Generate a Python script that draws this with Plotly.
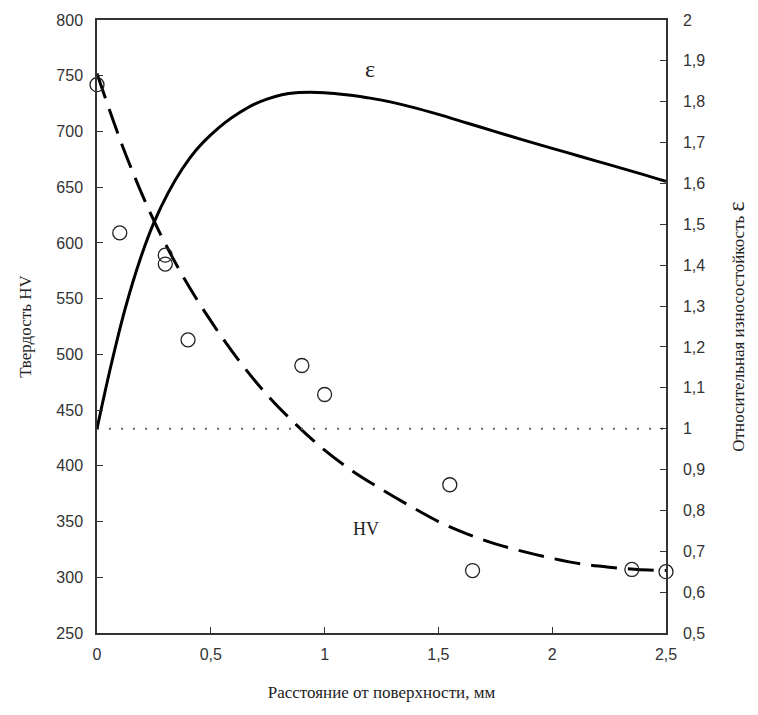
import plotly.graph_objects as go

# Measured hardness points (open circles)
hv_pts_x = [0.0, 0.1, 0.3, 0.3, 0.4, 0.9, 1.0, 1.55, 1.65, 2.35, 2.5]
hv_pts_y = [742, 609, 589, 581, 513, 490, 464, 383, 306, 307, 305]

# Fitted hardness curve (dashed), read every 0.125 mm
hv_fit_x = [0, 0.125, 0.25, 0.375, 0.5, 0.625, 0.75, 0.875, 1.0, 1.125, 1.25, 1.375,
            1.5, 1.625, 1.75, 1.875, 2.0, 2.125, 2.25, 2.375, 2.5]
hv_fit_y = [752, 680, 620, 571, 530, 494, 463, 437, 414, 395, 379, 364,
            350, 339, 330, 323, 317, 312, 309, 307, 306]

# Relative wear resistance curve (solid, right axis)
eps_x = [0, 0.0625, 0.125, 0.1875, 0.25, 0.3125, 0.375, 0.4375, 0.5, 0.5625, 0.625,
         0.6875, 0.75, 0.8125, 0.875, 0.9375, 1.0, 1.0625, 1.125, 1.1875, 1.25, 1.375,
         1.5, 1.625, 1.75, 1.875, 2.0, 2.125, 2.25, 2.375, 2.5]
eps_y = [1.0, 1.157, 1.296, 1.411, 1.504, 1.577, 1.636, 1.683, 1.719, 1.749, 1.773,
         1.793, 1.807, 1.817, 1.822, 1.823, 1.822, 1.819, 1.815, 1.810, 1.804, 1.788,
         1.769, 1.748, 1.727, 1.706, 1.686, 1.666, 1.646, 1.626, 1.605]

# Reference level eps = 1
ref_x = [0, 2.5]
ref_y = [1, 1]

fig = go.Figure()
fig.add_trace(go.Scatter(x=ref_x, y=ref_y, yaxis="y2", mode="lines",
                         line=dict(color="#666", width=2, dash="2px,10px"),
                         showlegend=False))
fig.add_trace(go.Scatter(x=hv_fit_x, y=hv_fit_y, mode="lines",
                         line=dict(color="black", width=3, dash="26px,11px", shape="spline", smoothing=1),
                         showlegend=False))
fig.add_trace(go.Scatter(x=eps_x, y=eps_y, yaxis="y2", mode="lines",
                         line=dict(color="black", width=3, shape="spline", smoothing=1),
                         showlegend=False))
fig.add_trace(go.Scatter(x=hv_pts_x, y=hv_pts_y, mode="markers",
                         marker=dict(symbol="circle-open", size=14, color="#222",
                                     line=dict(width=1.3, color="#222")),
                         cliponaxis=False, showlegend=False))

tickfont = dict(family="Liberation Sans, Arial", size=16, color="#333")
titlefont = dict(family="Liberation Serif, Times New Roman", size=17, color="#222")

fig.update_layout(
    width=758, height=715,
    margin=dict(l=97, r=92, t=20, b=82),
    paper_bgcolor="white", plot_bgcolor="white",
    separators=", ",
    xaxis=dict(range=[0, 2.5], dtick=0.5, tick0=0, ticks="inside", ticklen=6,
               tickcolor="#333", showline=True, linecolor="#333", linewidth=1.5,
               mirror=True, showgrid=False, zeroline=False, tickfont=tickfont,
               ticklabelstandoff=6,
               title=dict(text="Расстояние от поверхности, мм", font=titlefont, standoff=24)),
    yaxis=dict(range=[250, 800], dtick=50, tick0=250, ticks="inside", ticklen=6,
               tickcolor="#333", showline=True, linecolor="#333", linewidth=1.5,
               showgrid=False, zeroline=False, tickfont=tickfont,
               ticklabelstandoff=9,
               title=dict(text="Твердость HV", font=titlefont, standoff=20)),
    yaxis2=dict(range=[0.5, 2], dtick=0.1, tick0=0.5, overlaying="y", side="right",
                ticks="inside", ticklen=6, tickcolor="#333", showline=True,
                linecolor="#333", linewidth=1.5, showgrid=False, zeroline=False,
                tickfont=tickfont, ticklabelstandoff=12,
                title=dict(text="Относительная износостойкость <span style='font-size:24px'>ε</span>",
                           font=titlefont, standoff=28)),
    annotations=[
        dict(x=1.2, y=1.88, xref="x", yref="y2", text="ε", showarrow=False,
             font=dict(family="Liberation Serif, Times New Roman", size=24, color="#222")),
        dict(x=1.18, y=343, xref="x", yref="y", text="HV", showarrow=False,
             font=dict(family="Liberation Serif, Times New Roman", size=18, color="#222")),
    ],
)

fig.write_html("out.html")
